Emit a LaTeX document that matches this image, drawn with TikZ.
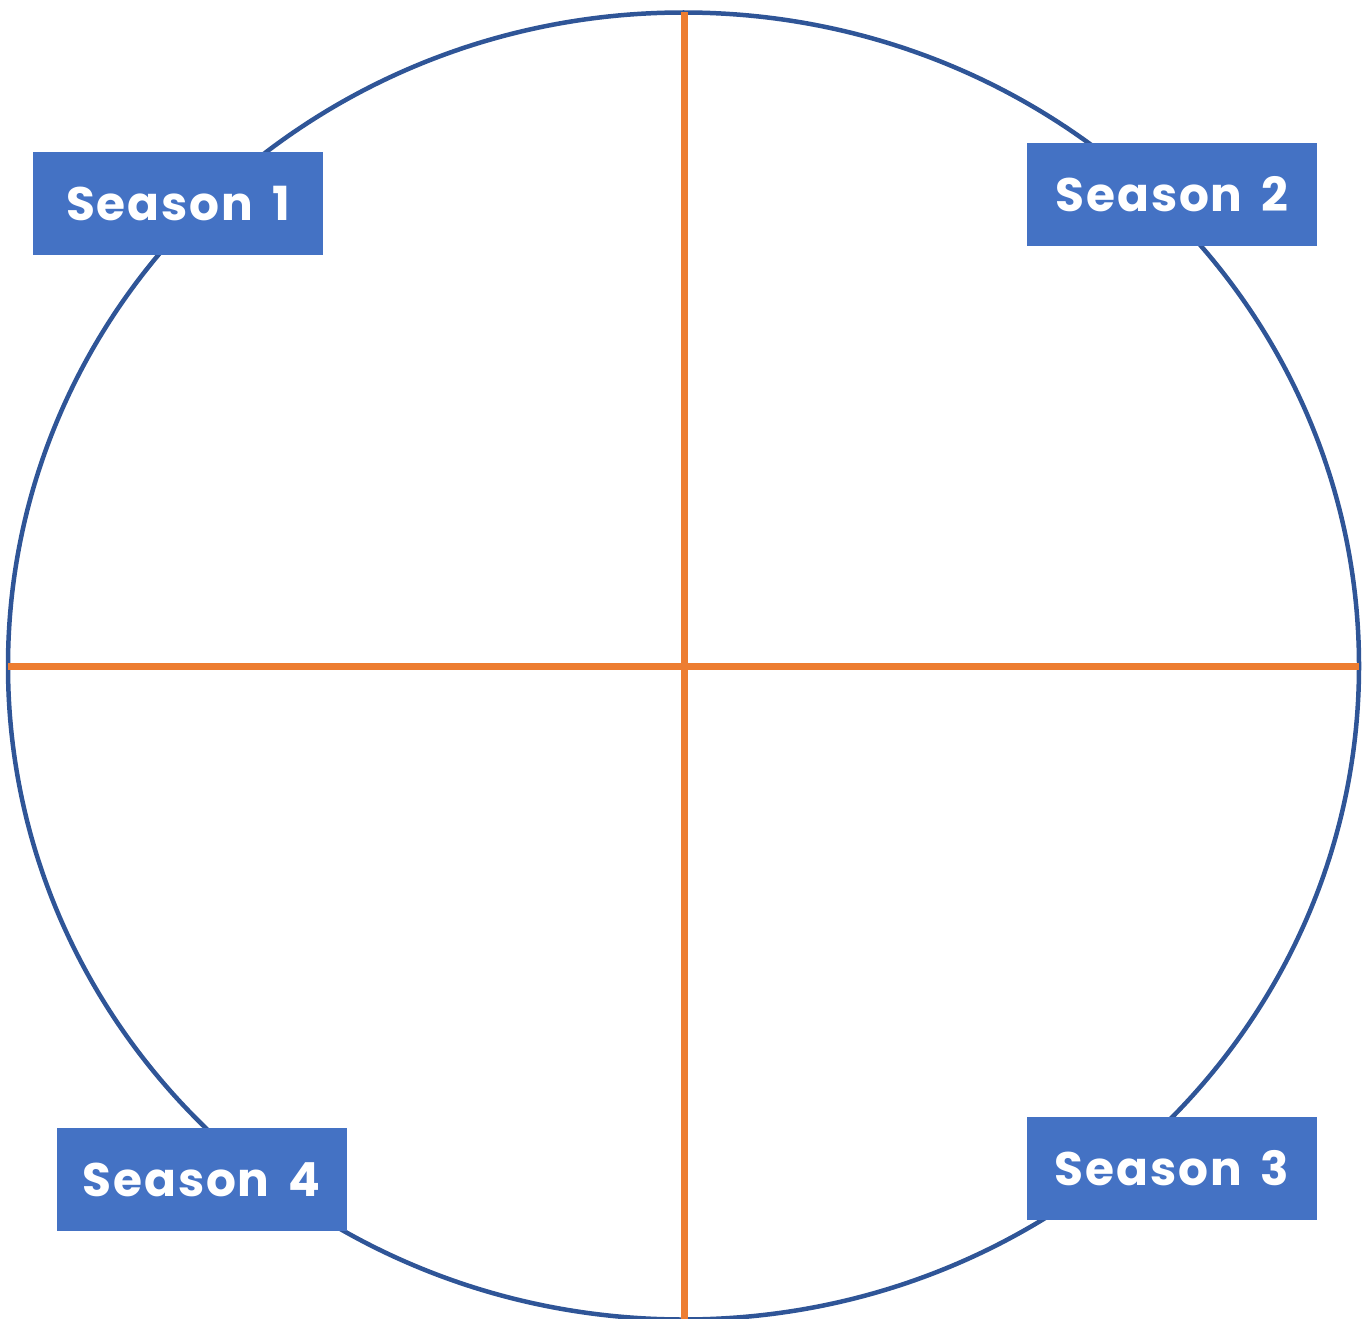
\documentclass[tikz,border=0pt]{standalone}
\usepackage{fontspec}
\newfontfamily\labfont{Poppins}[LetterSpace=4,WordSpace=1.6]
\definecolor{ringblue}{HTML}{2F5597}
\definecolor{axisorange}{HTML}{ED7D31}
\definecolor{boxblue}{HTML}{4472C4}
\begin{document}
\begin{tikzpicture}[x=1pt,y=-1pt,
  seasonbox/.style={fill=boxblue, draw=none, minimum width=290pt, minimum height=103pt,
    inner sep=0pt, text=white, font=\labfont\bfseries\fontsize{47}{52}\selectfont},
  axis/.style={draw=axisorange, line width=7pt},
  ring/.style={draw=ringblue, line width=4.5pt}]
\useasboundingbox (0,0) rectangle (1363,1319);
\coordinate (c) at (683.5,666);
\draw[ring] (c) ellipse [x radius=675.5, y radius=653.5];
\coordinate (top) at (684,12);
\coordinate (bot) at (684,1322);
\coordinate (lft) at (8,666);
\coordinate (rgt) at (1359,666);
\draw[axis] (top) -- (bot);
\draw[axis] (lft) -- (rgt);
\node[seasonbox] (s1) at (178,203.5) {Season 1};
\node[seasonbox] (s2) at (1172,194.5) {Season 2};
\node[seasonbox] (s3) at (1172,1168.5) {Season 3};
\node[seasonbox] (s4) at (201.5,1179.5) {Season 4};
\end{tikzpicture}
\end{document}
